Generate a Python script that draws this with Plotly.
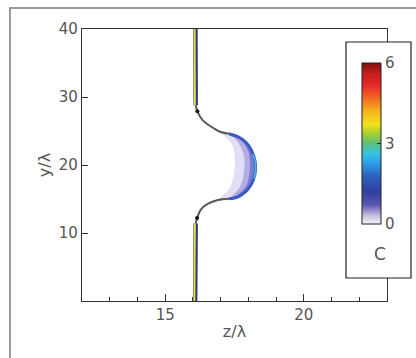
import plotly.graph_objects as go

# ---- data ----
top_strand_z = [16.09, 16.09, 16.10]
top_strand_y = [40.0, 33.0, 28.8]
bottom_strand_z = [16.08, 16.08, 16.10]
bottom_strand_y = [0.0, 6.0, 11.4]

upper_neck_z = [16.10, 16.17, 16.35, 16.75, 17.00, 17.30]
upper_neck_y = [28.8, 27.8, 26.6, 25.4, 24.85, 24.6]
lower_neck_z = [16.10, 16.17, 16.28, 16.50, 16.90, 17.30]
lower_neck_y = [11.4, 12.4, 13.4, 14.2, 14.85, 15.05]

bulge_outer_z = [17.30, 17.65, 17.92, 18.12, 18.24, 18.26, 18.18, 18.00, 17.75, 17.50, 17.30]
bulge_outer_y = [24.6, 24.1, 23.3, 22.1, 20.6, 19.3, 17.8, 16.5, 15.6, 15.15, 15.05]
bulge_inner_z = [16.90, 17.24, 17.45, 17.52, 17.42, 17.00]
bulge_inner_y = [14.9, 16.1, 18.0, 20.5, 22.9, 24.8]
bulge_mid_z = [17.40, 17.70, 17.82, 17.86, 17.80, 17.60, 17.35]
bulge_mid_y = [15.4, 16.8, 18.5, 20.3, 22.0, 23.5, 24.4]
bulge_deep_z = [17.60, 17.92, 18.03, 18.06, 18.00, 17.80, 17.55]
bulge_deep_y = [15.6, 16.9, 18.5, 20.3, 22.0, 23.4, 24.2]
cyan_rim_z = [18.16, 18.25, 18.26, 18.20]
cyan_rim_y = [21.6, 20.4, 19.2, 18.0]
pinch_z = [16.16, 16.15]
pinch_y = [27.9, 12.2]

c_min, c_max = 0, 6
c_ticks = [0, 3, 6]
x_ticks = [15, 20]
y_ticks = [10, 20, 30, 40]

colorscale = [
    [0.00, "#f6f3fb"], [0.05, "#c9c2e3"], [0.12, "#5a55b0"], [0.20, "#2f3f9e"],
    [0.30, "#2e62c0"], [0.38, "#2ea0e6"], [0.44, "#38c4e0"], [0.50, "#5cbf78"],
    [0.56, "#a6cf34"], [0.62, "#f2e21c"], [0.70, "#f7b21e"], [0.78, "#f06a22"],
    [0.86, "#e8282a"], [0.94, "#c01c1c"], [1.00, "#7a1010"],
]

W, H = 416, 358
L, R, T, B = 82, 29, 29, 57
pw, ph = W - L - R, H - T - B


def px(x):
    return (x - L) / pw


def py(y):
    return (H - B - y) / ph


fig = go.Figure()

# bulge crescent fills (light -> deeper toward the rim)
for zz, yy, col in [
    (bulge_inner_z, bulge_inner_y, "rgba(190,182,232,0.45)"),
    (bulge_mid_z, bulge_mid_y, "rgba(120,112,205,0.45)"),
    (bulge_deep_z, bulge_deep_y, "rgba(80,80,195,0.55)"),
]:
    fig.add_trace(go.Scatter(
        x=bulge_outer_z + zz, y=bulge_outer_y + yy,
        mode="lines", fill="toself", fillcolor=col,
        line=dict(width=0, shape="spline"), hoverinfo="skip", showlegend=False))
# rim
fig.add_trace(go.Scatter(x=bulge_outer_z, y=bulge_outer_y, mode="lines",
                         line=dict(color="#3a5ac4", width=3, shape="spline"),
                         hoverinfo="skip", showlegend=False))
fig.add_trace(go.Scatter(x=cyan_rim_z, y=cyan_rim_y, mode="lines",
                         line=dict(color="#46bce8", width=1.5, shape="spline"),
                         hoverinfo="skip", showlegend=False))
# necks
for zz, yy in [(upper_neck_z, upper_neck_y), (lower_neck_z, lower_neck_y)]:
    fig.add_trace(go.Scatter(x=zz, y=yy, mode="lines",
                             line=dict(color="#585858", width=2, shape="spline"),
                             hoverinfo="skip", showlegend=False))
fig.add_trace(go.Scatter(x=pinch_z, y=pinch_y, mode="markers",
                         marker=dict(color="#151515", size=4),
                         hoverinfo="skip", showlegend=False))
# strands
for zz, yy in [(top_strand_z, top_strand_y), (bottom_strand_z, bottom_strand_y)]:
    fig.add_trace(go.Scatter(x=zz, y=yy, mode="lines",
                             line=dict(color="#2a3a90", width=4.5),
                             hoverinfo="skip", showlegend=False))
    fig.add_trace(go.Scatter(x=[z - 0.03 for z in zz], y=yy, mode="lines",
                             line=dict(color="#e8e030", width=2),
                             hoverinfo="skip", showlegend=False))

tick_font = dict(family="DejaVu Sans", size=15, color="#555555")

# colorbar carrier (points lie outside the visible range)
fig.add_trace(go.Scatter(
    x=[12.5, 12.5], y=[-5, -5], mode="markers",
    marker=dict(color=[c_min, c_max], cmin=c_min, cmax=c_max, colorscale=colorscale,
                size=1, opacity=0,
                showscale=True,
                colorbar=dict(
                    x=px(362), xanchor="left", xpad=0,
                    y=py(143.5), yanchor="middle", ypad=0,
                    len=161 / ph, lenmode="fraction",
                    thickness=19, thicknessmode="pixels",
                    outlinecolor="#222", outlinewidth=1,
                    tickvals=c_ticks, ticks="inside", ticklen=4, tickcolor="#222",
                    tickfont=tick_font,
                    bgcolor="rgba(0,0,0,0)", borderwidth=0,
                )),
    hoverinfo="skip", showlegend=False))

axis_common = dict(showline=True, mirror=True, linecolor="#333", linewidth=1.3,
                   showgrid=False, zeroline=False, ticks="inside", tickcolor="#333",
                   tickfont=tick_font)

title_font = dict(family="DejaVu Sans", size=16, color="#555555")

fig.update_layout(
    template="none",
    width=W, height=H,
    margin=dict(l=L, r=R, t=T, b=B),
    paper_bgcolor="white", plot_bgcolor="white",
    font=tick_font,
    xaxis=dict(range=[12, 23], tickvals=x_ticks, ticklen=7,
               minor=dict(dtick=1, tick0=12, ticks="inside", ticklen=4, tickcolor="#333"),
               title=dict(text="z/λ", font=title_font, standoff=2),
               **axis_common),
    yaxis=dict(range=[0, 40], tickvals=y_ticks, ticklen=6,
               title=dict(text="y/λ", font=title_font, standoff=4),
               **axis_common),
    shapes=[
        dict(type="rect", xref="paper", yref="paper",
             x0=px(10), x1=px(430), y0=py(380), y1=py(8),
             line=dict(color="#7a7a7a", width=1.5), fillcolor="rgba(0,0,0,0)",
             layer="above"),
        dict(type="rect", xref="paper", yref="paper",
             x0=px(346), x1=px(411), y0=py(278), y1=py(42),
             line=dict(color="#222", width=1.2), fillcolor="white",
             layer="above"),
    ],
    annotations=[
        dict(text="C", xref="paper", yref="paper", x=px(380), y=py(254),
             showarrow=False, font=dict(family="DejaVu Sans", size=17, color="#555555"),
             xanchor="center", yanchor="middle"),
    ],
)

fig.write_html("out.html", post_script="document.body.style.margin='0';",
               config={"displayModeBar": False})
